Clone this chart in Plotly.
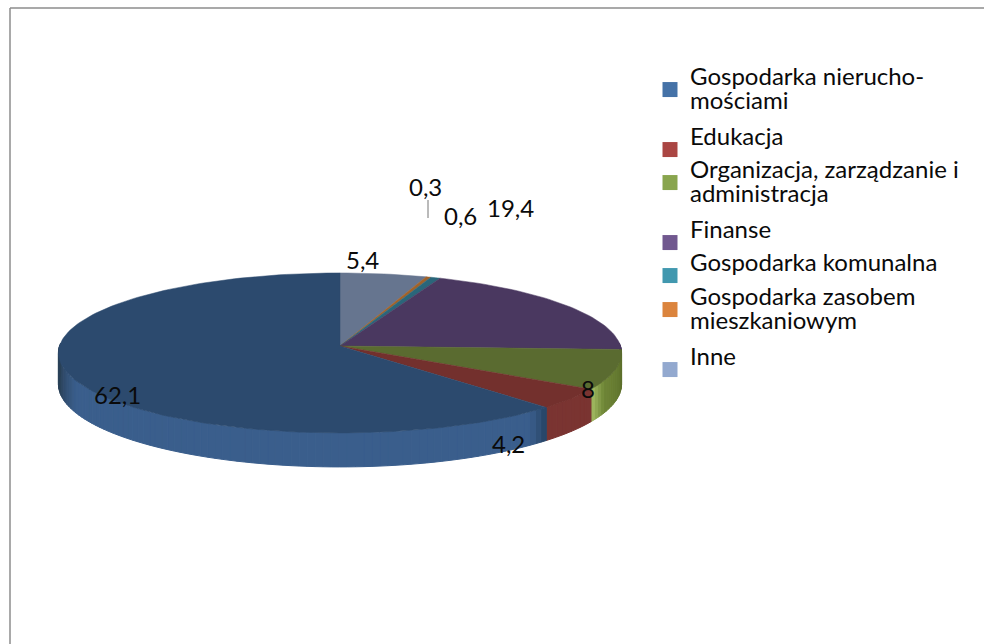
import math
import plotly.graph_objects as go

categories = ["Gospodarka nierucho-<br>mościami", "Edukacja", "Organizacja, zarządzanie i<br>administracja",
              "Finanse", "Gospodarka komunalna", "Gospodarka zasobem<br>mieszkaniowym", "Inne"]
values = [62.1, 4.2, 8, 19.4, 0.6, 0.3, 5.4]
value_labels = ["62,1", "4,2", "8", "19,4", "0,6", "0,3", "5,4"]

legend_colors = ["#4572A7", "#AA4643", "#89A54E", "#71588F", "#4198AF", "#DB843D", "#93A9CF"]
top_colors = ["#2C4A6E", "#73302D", "#5A6B30", "#4A3860", "#2A667A", "#A0622A", "#66758F"]
wall_colors = ["#3A5E8C", "#7A3431", "#6A8035", "#4A3860", "#2A667A", "#A0622A", "#66758F"]

CX, CY, R, RY, K, DEPTH = 340, 346, 280.5, 79.4, 0.087, 31
LEGEND_Y = [90, 150, 183, 243, 276, 310, 370]
LABEL_POS = [(117, 394), (508, 443), (588, 388), (510, 207), (460, 215), (425, 186), (362, 259)]
FONT = "Lato"
LEGEND_PITCH_SIZE = 18.5
LEGEND_TEXT_SIZE = 24


def project(theta, drop=0.0):
    v = -math.cos(theta)
    s = 1 / (1 - K * v)
    return CX + R * math.sin(theta) * s, CY + (RY * v + drop) * s


def mix(c1, c2, t):
    a = [int(c1[i:i + 2], 16) for i in (1, 3, 5)]
    b = [int(c2[i:i + 2], 16) for i in (1, 3, 5)]
    t = max(0.0, min(1.0, t))
    return "rgb(%d,%d,%d)" % tuple(round(p + (q - p) * t) for p, q in zip(a, b))


# slices run clockwise from 12 o'clock in reverse series order
spans = []
acc = 0.0
for i in range(len(values) - 1, -1, -1):
    start = acc / sum(values) * 2 * math.pi
    acc += values[i]
    spans.append((i, start, acc / sum(values) * 2 * math.pi))

fig = go.Figure()
STEP = math.radians(1.5)

# outer wall
for i, a0, a1 in spans:
    lo, hi = max(a0, math.radians(88)), min(a1, math.radians(272))
    if hi <= lo:
        continue
    n = max(1, int((hi - lo) / STEP))
    for j in range(n):
        t0 = lo + (hi - lo) * j / n
        t1 = lo + (hi - lo) * (j + 1) / n
        deg = math.degrees((t0 + t1) / 2)
        color = wall_colors[i]
        if i == 0:
            if deg < 141:
                color = mix("#24405F", wall_colors[i], (deg - 136) / 5)
            elif deg > 245:
                color = mix(wall_colors[i], "#2A4158", (deg - 245) / 15)
        elif i == 2:
            frac = (deg - 92) / 29
            color = mix("#566828", "#6E8536", frac / 0.8) if frac < 0.8 else mix("#6E8536", "#A0B860", (frac - 0.8) / 0.2)
        arc = [t0, t1]
        xs = [project(t)[0] for t in arc] + [project(t, DEPTH)[0] for t in arc[::-1]]
        ys = [project(t)[1] for t in arc] + [project(t, DEPTH)[1] for t in arc[::-1]]
        fig.add_trace(go.Scatter(x=xs + xs[:1], y=ys + ys[:1], fill="toself", fillcolor=color, mode="lines",
                                 line=dict(width=1, color=color), showlegend=False, hoverinfo="skip"))

# top surface wedges
for i, a0, a1 in spans:
    n = max(2, int((a1 - a0) / STEP))
    arc = [project(a0 + (a1 - a0) * j / n) for j in range(n + 1)]
    xs = [CX] + [p[0] for p in arc] + [CX]
    ys = [CY] + [p[1] for p in arc] + [CY]
    fig.add_trace(go.Scatter(x=xs, y=ys, fill="toself", fillcolor=top_colors[i], mode="lines",
                             line=dict(width=0.5, color=top_colors[i]), showlegend=False,
                             hovertemplate=categories[i].replace("<br>", " ") + ": " + value_labels[i] + "<extra></extra>"))

# legend: one positioned legend per entry so the uneven spacing is preserved
layout_legends = {}
for i, name in enumerate(categories):
    key = "legend" if i == 0 else f"legend{i + 1}"
    parts = name.split("<br>")
    if len(parts) == 1:
        parts.append(" ")
    label = "<br>".join(f'<span style="font-size:{LEGEND_TEXT_SIZE}px">{p}</span>' for p in parts)
    fig.add_trace(go.Scatter(x=[None], y=[None], mode="markers", name=label, legend=key,
                             marker=dict(symbol="square", size=15, color=legend_colors[i])))
    layout_legends[key] = dict(x=650 / 984, xanchor="left", y=1 - LEGEND_Y[i] / 644, yanchor="middle",
                               bgcolor="rgba(0,0,0,0)", borderwidth=0, itemwidth=30,
                               font=dict(family=FONT, size=LEGEND_PITCH_SIZE, color="#0A0A0A"))

annotations = [dict(x=px, y=py, text=t, showarrow=False, xanchor="center", yanchor="middle",
                    font=dict(family=FONT, size=24, color="#0A0A0A"))
               for t, (px, py) in zip(value_labels, LABEL_POS)]

fig.update_layout(
    width=984, height=644, margin=dict(l=0, r=0, t=0, b=0),
    paper_bgcolor="white", plot_bgcolor="white",
    xaxis=dict(range=[0, 984], visible=False, fixedrange=True),
    yaxis=dict(range=[644, 0], visible=False, fixedrange=True),
    annotations=annotations,
    shapes=[
        dict(type="line", x0=428, x1=428, y0=200, y1=218, line=dict(color="#777777", width=1)),
        dict(type="line", x0=10, x1=984, y0=8, y1=8, line=dict(color="#8C8C8C", width=1.5)),
        dict(type="line", x0=10, x1=10, y0=8, y1=644, line=dict(color="#8C8C8C", width=1.5)),
    ],
    **layout_legends,
)
fig.write_html("out.html", config={"displayModeBar": False},
               post_script="document.body.style.margin='0';document.documentElement.style.overflow='hidden';")
